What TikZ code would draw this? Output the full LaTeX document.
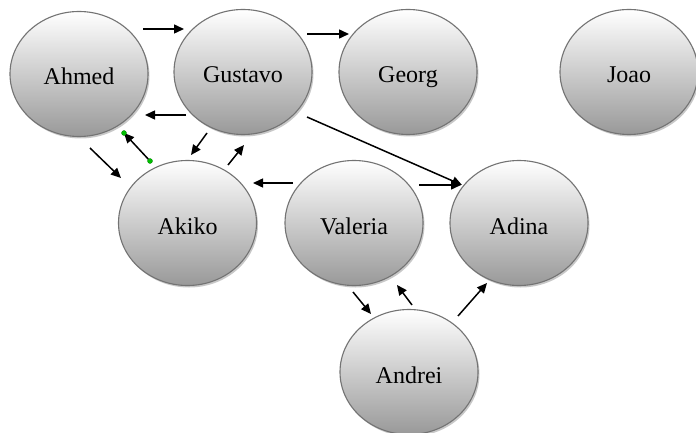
\documentclass[tikz,border=0pt]{standalone}
\usepackage{fontspec}
\setmainfont{Liberation Serif}
\usetikzlibrary{shapes.geometric,shadows,arrows.meta}

\begin{document}
\begin{tikzpicture}[x=1pt,y=-1pt,
  person/.style={ellipse, draw=black!55, line width=1.1pt,
    top color=white, middle color=black!8, bottom color=black!40,
    minimum width=138pt, minimum height=125pt, inner sep=0pt,
    font=\fontsize{24}{28}\selectfont, text height=22pt, text depth=0pt,
    drop shadow={shadow xshift=1.5pt, shadow yshift=-2pt, opacity=0.3, fill=black!70}},
  link/.style={-{Triangle[length=10pt,width=9pt]}, line width=1.5pt},
  handle/.style={circle, fill=green!75!black, draw=green!50!black, line width=0.3pt,
    inner sep=0pt, minimum size=5pt}]

% canvas
\path[use as bounding box, clip] (0,0) rectangle (696,433);
\fill[white] (0,0) rectangle (696,433);

% people
\node[person] (ahmed)   at (79,74)    {Ahmed};
\node[person] (gustavo) at (243,72)   {Gustavo};
\node[person] (georg)   at (408,72)   {Georg};
\node[person] (joao)    at (629,72)   {Joao};
\node[person] (akiko)   at (187.5,223) {Akiko};
\node[person] (valeria) at (354,223)  {Valeria};
\node[person] (adina)   at (519,223)  {Adina};
\node[person] (andrei)  at (409,372)  {Andrei};

% free-standing arrow end points
\coordinate (ahgA) at (143,29);  \coordinate (ahgB) at (184,29);
\coordinate (ggA)  at (307,34);  \coordinate (ggB)  at (349,34);
\coordinate (gahA) at (186,115); \coordinate (gahB) at (145,115);
\coordinate (gadA) at (307,117); \coordinate (gadB) at (462,185);
\coordinate (aakA) at (90,148);  \coordinate (aakB) at (121,178);
\coordinate (kahA) at (150,161); \coordinate (kahB) at (124,133);
\coordinate (gkA)  at (207,133); \coordinate (gkB)  at (191,155);
\coordinate (kgA)  at (228,165); \coordinate (kgB)  at (244,145);
\coordinate (vkA)  at (293,183); \coordinate (vkB)  at (253,183);
\coordinate (vadA) at (419,185); \coordinate (vadB) at (461,185);
\coordinate (vanA) at (353,292); \coordinate (vanB) at (371,314);
\coordinate (anvA) at (412,305); \coordinate (anvB) at (397,285);
\coordinate (anaA) at (458,316); \coordinate (anaB) at (487,283);

% connectors
\draw[link] (ahgA) -- (ahgB);
\draw[link] (ggA)  -- (ggB);
\draw[link] (gahA) -- (gahB);
\draw[link] (gadA) -- (gadB);
\draw[link] (aakA) -- (aakB);
\draw[link] (kahA) -- (kahB);
\draw[link] (gkA)  -- (gkB);
\draw[link] (kgA)  -- (kgB);
\draw[link] (vkA)  -- (vkB);
\draw[link] (vadA) -- (vadB);
\draw[link] (vanA) -- (vanB);
\draw[link] (anvA) -- (anvB);
\draw[link] (anaA) -- (anaB);

% selection handles on the Akiko -> Ahmed connector
\node[handle] (hA) at (kahA) {};
\node[handle] (hB) at (kahB) {};
\end{tikzpicture}
\end{document}
